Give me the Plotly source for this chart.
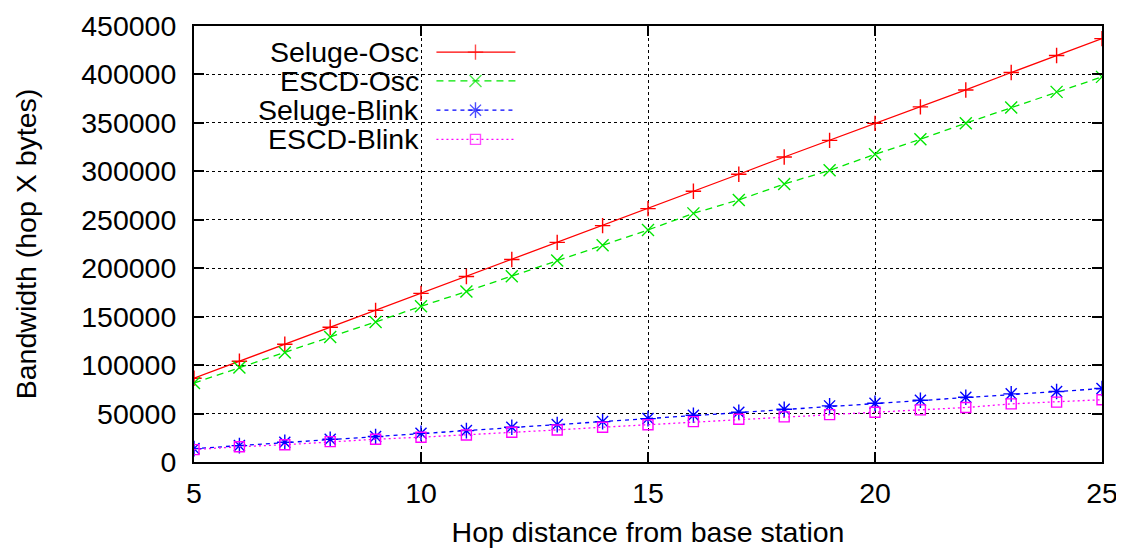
import plotly.graph_objects as go

hops = list(range(5, 26))
seluge_osc = [86500, 104000, 121500, 139000, 156500, 174000, 191500, 209000, 226700, 244000,
              261500, 279500, 297000, 314800, 332000, 349500, 366500, 384000, 402000, 419500, 437000]
escd_osc = [81500, 97600, 113100, 129000, 144500, 160700, 176000, 191700, 207900, 223600,
            239500, 256600, 270500, 286900, 301000, 317600, 333100, 349700, 365900, 382000, 397500]
seluge_blink = [13800, 16900, 20400, 23500, 26300, 29700, 32400, 35900, 38600, 41700,
                44800, 48300, 51400, 54500, 57900, 60700, 63800, 66900, 70300, 72700, 75800]
escd_blink = [12800, 15800, 17800, 21000, 23500, 25600, 27900, 30700, 33100, 35900,
              38500, 41700, 44200, 46600, 48900, 51400, 53800, 56200, 60000, 61800, 64300]

names = ["Seluge-Osc", "ESCD-Osc", "Seluge-Blink", "ESCD-Blink"]
series = [seluge_osc, escd_osc, seluge_blink, escd_blink]
colors = ["#ff0000", "#00e600", "#0000ff", "#ff00ff"]
dashes = ["solid", "7px,5px", "4px,4px", "2px,3px"]
symbols = ["cross-thin", "x-thin", "asterisk-open", "square-open"]
msizes = [11, 12, 13, 10]

x_ticks = [5, 10, 15, 20, 25]
y_ticks = list(range(0, 450001, 50000))

FONT = "Liberation Sans, Arial, sans-serif"
FS = 28.5

fig = go.Figure()
for n, s, c, d, sym, ms in zip(names, series, colors, dashes, symbols, msizes):
    fig.add_trace(go.Scatter(
        x=hops, y=s, name=n, mode="lines+markers",
        line=dict(color=c, width=1.3, dash=d),
        marker=dict(symbol=sym, size=ms, color=c, line=dict(color=c, width=1.4)),
        showlegend=False))

# custom legend (text left, sample right) drawn on an overlay axis
leg_rows = [0.940, 0.874, 0.807, 0.740]
for n, c, d, sym, ms, yr in zip(names, colors, dashes, symbols, msizes, leg_rows):
    fig.add_trace(go.Scatter(
        x=[0.267, 0.310, 0.354], y=[yr, yr, yr], mode="lines+markers",
        xaxis="x2", yaxis="y2", showlegend=False, hoverinfo="skip",
        line=dict(color=c, width=1.3, dash=d),
        marker=dict(symbol=sym, size=[0, ms, 0], color=c, line=dict(color=c, width=1.4))))
    fig.add_annotation(x=0.250, y=yr, xref="paper", yref="paper", text=n,
                       showarrow=False, xanchor="right", yanchor="middle",
                       font=dict(family=FONT, size=FS, color="black"))

fig.add_shape(type="rect", xref="paper", yref="paper", x0=0.013, x1=0.372, y0=0.712, y1=0.995,
              fillcolor="white", line=dict(width=0), layer="between")

axis_common = dict(
    showline=True, linecolor="black", linewidth=2, mirror="allticks",
    ticks="inside", ticklen=10, tickwidth=2, tickcolor="black",
    showgrid=True, gridcolor="black", gridwidth=1, griddash="dot",
    zeroline=False, automargin=False,
    tickfont=dict(family=FONT, size=FS, color="black"),
)

fig.update_layout(
    width=1116, height=542,
    margin=dict(l=186, r=22, t=18, b=88),
    paper_bgcolor="white", plot_bgcolor="white",
    font=dict(family=FONT, color="black"),
    xaxis=dict(range=[5, 25], tickvals=x_ticks, ticktext=[str(v) for v in x_ticks],
               ticklabelstandoff=5,
               title=dict(text="Hop distance from base station", font=dict(family=FONT, size=FS), standoff=14),
               **axis_common),
    yaxis=dict(range=[0, 450000], tickvals=y_ticks, ticktext=[str(v) for v in y_ticks],
               ticklabelstandoff=10,
               title=dict(text="Bandwidth (hop X bytes)", font=dict(family=FONT, size=FS), standoff=36),
               **axis_common),
    xaxis2=dict(overlaying="x", range=[0, 1], visible=False),
    yaxis2=dict(overlaying="y", range=[0, 1], visible=False),
)

fig.write_html("out.html")
